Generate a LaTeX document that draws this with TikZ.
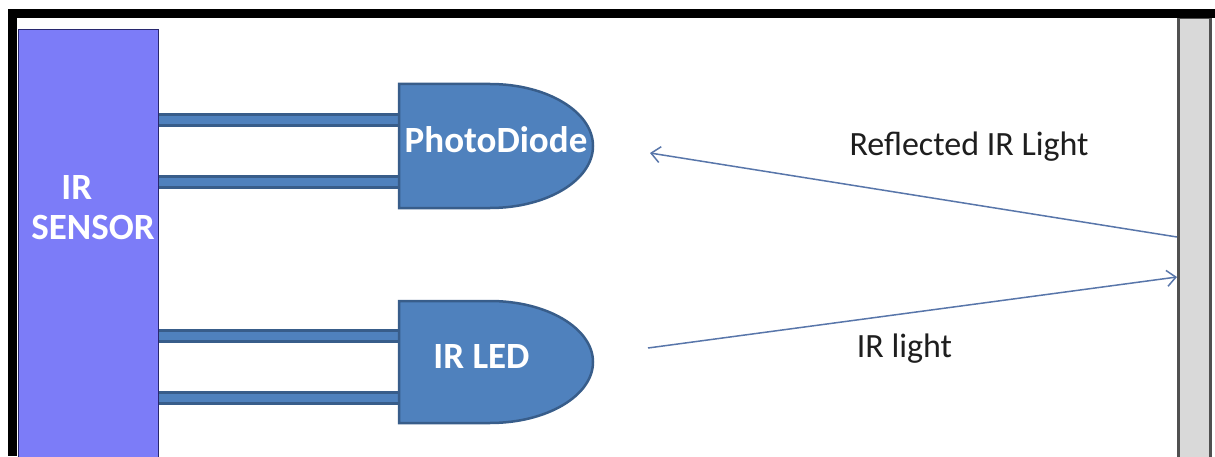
\documentclass[tikz,border=0pt]{standalone}
\usepackage{fontspec}
\setmainfont{Carlito}
\usetikzlibrary{arrows.meta,backgrounds}
\definecolor{sensorfill}{RGB}{124,124,248}
\definecolor{sensorline}{RGB}{40,40,110}
\definecolor{bodyfill}{RGB}{79,129,189}
\definecolor{bodyline}{RGB}{56,93,138}
\definecolor{raycol}{RGB}{88,118,170}
\definecolor{wallfill}{RGB}{217,217,217}
\definecolor{wallline}{RGB}{80,80,80}
\definecolor{txt}{RGB}{30,30,30}
\begin{document}
\begin{tikzpicture}[x=1pt,y=1pt,
  whitetext/.style={text=white,font=\fontsize{37}{40}\selectfont\bfseries},
  bodybox/.style={whitetext, minimum width=194pt, inner sep=0pt, outer sep=0pt},
  body/.style={fill=bodyfill, draw=bodyline, line width=2.5pt},
  lead/.style={draw=bodyline, line width=3pt, double=bodyfill, double distance=8pt},
  ray/.style={draw=raycol, line width=1.5pt},
  raytip/.style={-{Straight Barb[length=9pt,width=16pt]}},
  caption/.style={text=txt, font=\fontsize{34}{38}\selectfont, anchor=base, inner sep=0pt}]
\useasboundingbox (0,0) rectangle (1215,456);
\begin{pgfonlayer}{background}
  \fill[white] (0,0) rectangle (1215,456);
\end{pgfonlayer}
% wall
\node[fill=wallfill, draw=wallline, line width=3pt, minimum width=31.5pt, minimum height=460pt, inner sep=0pt, outer sep=1.5pt] (wall) at (1194.25,208) {};
% frame
\fill[black] (8,438) rectangle (1215,447);
\fill[black] (8,0) rectangle (17,447);
% sensor
\node[draw=sensorline, fill=sensorfill, line width=1pt, minimum width=140pt, minimum height=440pt, inner sep=0pt, outer sep=0pt,
  label={[whitetext, align=left, inner sep=0pt, xshift=5pt, yshift=42pt]center:\hspace*{30pt}IR\\SENSOR}] (sensor) at (88,206) {};
% diode bodies (text nodes)
\node[bodybox, minimum height=124pt, text depth=12pt] (pd) at (496,310) {PhotoDiode};
\node[bodybox, minimum height=122pt, text depth=10pt] (led) at (496,94) {IR LED\hspace*{29pt}};
\begin{pgfonlayer}{background}
  \draw[lead] (sensor.east |- 0,336) -- (pd.west |- 0,336);
  \draw[lead] (sensor.east |- 0,274) -- (pd.west |- 0,274);
  \draw[lead] (sensor.east |- 0,120.5) -- (led.west |- 0,120.5);
  \draw[lead] (sensor.east |- 0,58.5) -- (led.west |- 0,58.5);
  \draw[body] (pd.north west) -- ++(91,0) arc[start angle=90,end angle=-90,x radius=103,y radius=62] -- (pd.south west) -- cycle;
  \draw[body] (led.north west) -- ++(91,0) arc[start angle=90,end angle=-90,x radius=103,y radius=61] -- (led.south west) -- cycle;
\end{pgfonlayer}
% rays
\coordinate (rtip) at (650,303);
\coordinate (istart) at (648,108);
\draw[ray, raytip] (wall.west |- 0,219) -- (rtip);
\draw[ray, raytip] (istart) -- (wall.west |- 0,179);
% captions
\node[caption] (refl) at (969,301) {Reflected IR Light};
\node[caption] (irl) at (904.5,99) {IR light};
\end{tikzpicture}
\end{document}
